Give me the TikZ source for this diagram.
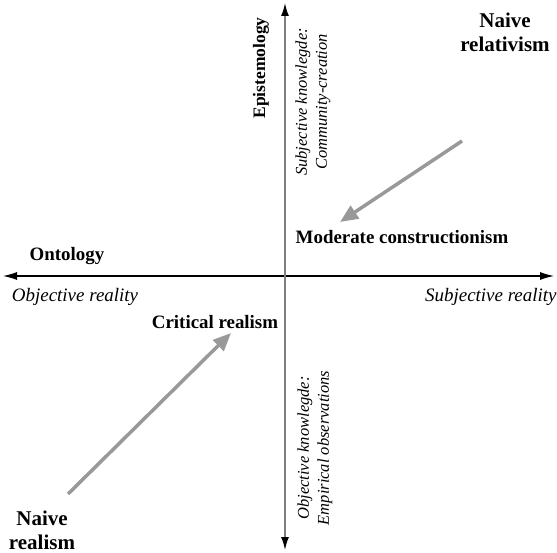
\documentclass[tikz,border=0pt]{standalone}
\usepackage{fontspec}
\setmainfont{Liberation Serif}
\usepackage{tikz}
\usetikzlibrary{positioning,arrows.meta}

\tikzset{
  pole/.style={font=\fontsize{17.5}{20}\selectfont\bfseries, align=center, inner sep=1pt, scale=1.08},
  naive/.style={font=\fontsize{17.5}{20}\selectfont\bfseries, align=center, inner sep=1pt, scale=1.2},
  axisname/.style={font=\fontsize{17.5}{20}\selectfont\bfseries, inner sep=1pt},
  endlabel/.style={font=\fontsize{16.5}{20}\selectfont\itshape, inner sep=1pt, align=center},
  moveline/.style={draw=gray!80, line width=3.5pt, -{Triangle[length=18pt,width=15pt]}}
}

\begin{document}
\begin{tikzpicture}[x=1pt,y=-1pt]
  \useasboundingbox (0,0) rectangle (557,553);

  % axes
  \coordinate (left) at (3,276);
  \coordinate (right) at (554,276);
  \coordinate (top) at (285,3);
  \coordinate (bottom) at (285,550);
  \draw[line width=1.1pt, {Latex[length=14pt,width=8pt]}-{Latex[length=14pt,width=8pt]}] (left) -- (right);
  \draw[gray, line width=1.6pt, {Latex[length=13pt,width=8pt,black]}-{Latex[length=13pt,width=8pt,black]}] (bottom) -- (top);

  % axis names
  \node[axisname, scale=1.08] (onto) at (67,256) {Ontology};
  \node[axisname, rotate=90] (epis) at (261,68) {Epistemology};

  % axis ends
  \node[endlabel, scale=1.15] (objr) at (75,297) {Objective reality};
  \node[endlabel, scale=1.15, anchor=east] (subr) at (558,297) {Subjective reality};
  \node[endlabel, rotate=90] (subk) at (313,102) {Subjective knowlegde:\\Community-creation};
  \node[endlabel, rotate=90] (objk) at (315,448) {Objective knowlegde:\\Empirical observations};

  % positions
  \node[naive] (nrel) at (505,32) {Naive\\relativism};
  \node[pole] (modc) at (402,237) {Moderate constructionism};
  \node[pole] (crit) at (215,322) {Critical realism};
  \node[naive] (nrea) at (42,530) {Naive\\realism};

  \coordinate (relfrom) at (462,141);
  \coordinate (relto) at (340,222);
  \coordinate (reafrom) at (68,494);
  \coordinate (reato) at (231,333);
  \draw[moveline] (relfrom) -- (relto);
  \draw[moveline] (reafrom) -- (reato);
\end{tikzpicture}
\end{document}
